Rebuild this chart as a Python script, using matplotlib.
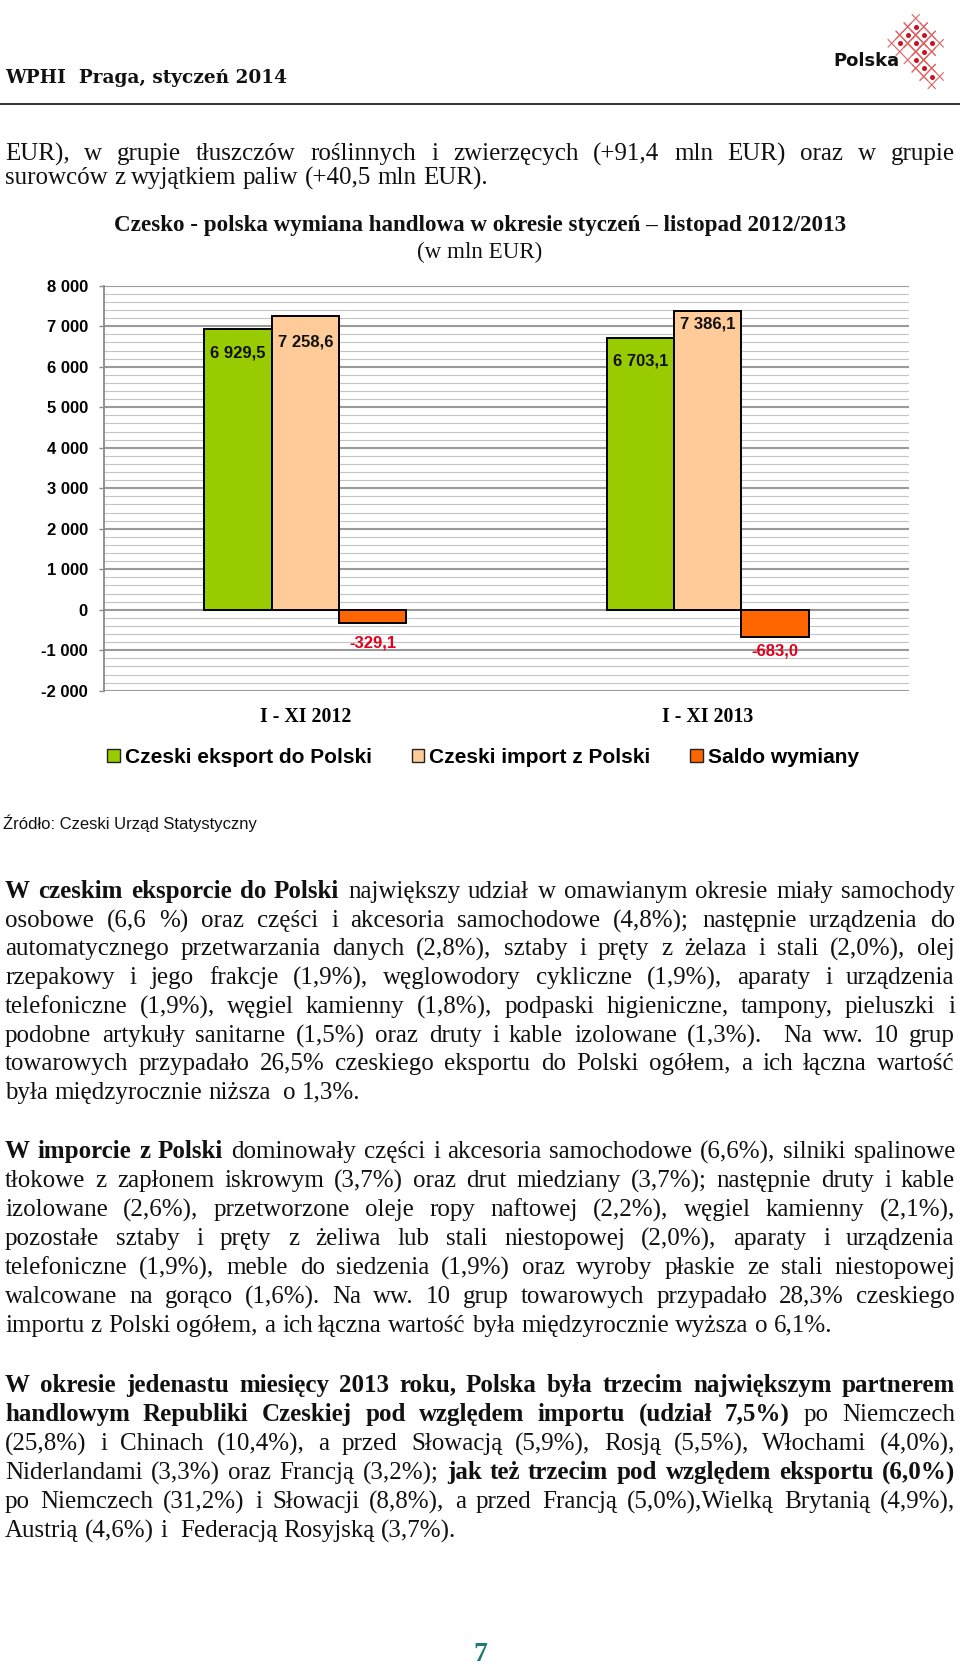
import math
import matplotlib
matplotlib.use("Agg")
import matplotlib.pyplot as plt
from matplotlib.patches import Patch
from matplotlib.ticker import MultipleLocator, FixedLocator, FuncFormatter
from matplotlib.font_manager import FontProperties
import numpy as np

# ---------------- data ----------------
categories = ["I - XI 2012", "I - XI 2013"]
series_names = ["Czeski eksport do Polski", "Czeski import z Polski", "Saldo wymiany"]
export_cz = [6929.5, 6703.1]
import_cz = [7258.6, 7386.1]
saldo = [-329.1, -683.0]
y_ticks = [-2000, -1000, 0, 1000, 2000, 3000, 4000, 5000, 6000, 7000, 8000]

chart_title = "Czesko - polska wymiana handlowa w okresie styczeń – listopad 2012/2013"
chart_subtitle = "(w mln EUR)"
source_text = "Źródło: Czeski Urząd Statystyczny"
header_text = "WPHI  Praga, styczeń 2014"
page_number = "7"

para_top = [
    "EUR), w grupie tłuszczów roślinnych i zwierzęcych (+91,4 mln EUR) oraz w grupie",
    "surowców z wyjątkiem paliw (+40,5 mln EUR).",
]
para_export = [
    "**W czeskim eksporcie do Polski** największy udział w omawianym okresie miały samochody",
    "osobowe (6,6 %) oraz części i akcesoria samochodowe (4,8%); następnie urządzenia do",
    "automatycznego przetwarzania danych (2,8%), sztaby i pręty z żelaza i stali (2,0%), olej",
    "rzepakowy i jego frakcje (1,9%), węglowodory cykliczne (1,9%), aparaty i urządzenia",
    "telefoniczne (1,9%), węgiel kamienny (1,8%), podpaski higieniczne, tampony, pieluszki i",
    "podobne artykuły sanitarne (1,5%) oraz druty i kable izolowane (1,3%).  Na ww. 10 grup",
    "towarowych przypadało 26,5% czeskiego eksportu do Polski ogółem, a ich łączna wartość",
    "była międzyrocznie niższa  o 1,3%.",
]
para_import = [
    "**W imporcie z Polski** dominowały części i akcesoria samochodowe (6,6%), silniki spalinowe",
    "tłokowe z zapłonem iskrowym (3,7%) oraz drut miedziany (3,7%); następnie druty i kable",
    "izolowane (2,6%), przetworzone oleje ropy naftowej (2,2%), węgiel kamienny (2,1%),",
    "pozostałe sztaby i pręty z żeliwa lub stali niestopowej (2,0%), aparaty i urządzenia",
    "telefoniczne (1,9%), meble do siedzenia (1,9%) oraz wyroby płaskie ze stali niestopowej",
    "walcowane na gorąco (1,6%). Na ww. 10 grup towarowych przypadało 28,3% czeskiego",
    "importu z Polski ogółem, a ich łączna wartość była międzyrocznie wyższa o 6,1%.",
]
para_partner = [
    "**W okresie jedenastu miesięcy 2013 roku, Polska była trzecim największym partnerem**",
    "**handlowym Republiki Czeskiej pod względem importu (udział 7,5%)** po Niemczech",
    "(25,8%) i Chinach (10,4%), a przed Słowacją (5,9%), Rosją (5,5%), Włochami (4,0%),",
    "Niderlandami (3,3%) oraz Francją (3,2%); **jak też trzecim pod względem eksportu (6,0%)**",
    "po Niemczech (31,2%) i Słowacji (8,8%), a przed Francją (5,0%),Wielką Brytanią (4,9%),",
    "Austrią (4,6%) i  Federacją Rosyjską (3,7%).",
]

# ---------------- style / layout ----------------
W, H, DPI = 960, 1666, 100
colors = ["#99CC00", "#FFCC99", "#FF6600"]
label_colors = ["#111111", "#111111", "#E3001B"]
label_offsets_px = [[-24, -23], [-26, -13], [-20, -14]]  # per series, per category
SERIF = "Liberation Serif"
SANS = "Liberation Sans"
BODY_FS = 18
LEFT, RIGHT = 5, 955

fig = plt.figure(figsize=(W / DPI, H / DPI), dpi=DPI)
fig.patch.set_facecolor("white")

# decoration / text layer in pixel coordinates (y downwards)
deco = fig.add_axes([0, 0, 1, 1])
deco.set_xlim(0, W)
deco.set_ylim(H, 0)
deco.axis("off")

renderer = fig.canvas.get_renderer()

# header
deco.text(5, 83, header_text, family="DejaVu Serif", weight="bold", fontsize=13.3,
          va="baseline", ha="left", color="#111111")
deco.plot([0, W], [103.5, 103.5], color="#333333", lw=1.4, solid_capstyle="butt")

# logo
deco.text(833, 66, "Polska", family="DejaVu Sans", weight="bold", fontsize=13,
          va="baseline", ha="left", color="#111111")
logo_cells = [(0, 0), (1, 0), (0, 1), (2, 0), (1, 1), (0, 2), (1, 2), (2, 2), (2, 3), (2, 4)]
ox, oy, sx, sy = 915.7, 26.7, 8.0, 8.3
for a, b in logo_cells:
    cx = ox + (b - a) * sx
    cy = oy + (a + b) * sy
    verts = [(cx, cy - sy), (cx + sx, cy), (cx, cy + sy), (cx - sx, cy), (cx, cy - sy)]
    for (x1, y1), (x2, y2) in zip(verts[:-1], verts[1:]):
        dx, dy = (x2 - x1) * 0.45, (y2 - y1) * 0.45
        deco.plot([x1 - dx, x2 + dx], [y1 - dy, y2 + dy], color="#E06060", lw=0.8)
    deco.plot(cx, cy, "o", ms=3.6, color="#CC1020", mec="none")


def baseline_shift(word, bold):
    """Integer pixel shift the Agg text rasteriser adds for this word (keeps baselines even)."""
    if not word:
        return 0
    try:
        from matplotlib.backends.backend_agg import get_hinting_flag
        fp = FontProperties(family=SERIF, weight="bold" if bold else "normal", size=BODY_FS)
        font = renderer._prepare_font(fp)
        font.set_text(word, 0, flags=get_hinting_flag())
        _, h = font.get_width_height()
        d = font.get_descent()
        return round(d / 64.0) - (h // 64) + math.floor((h - d) / 64.0)
    except Exception:
        return 0


def draw_paragraph(lines, y0, spacing, last_left=True):
    sp_a = deco.text(0, 0, "a a", fontsize=BODY_FS, family=SERIF)
    sp_b = deco.text(0, 0, "aa", fontsize=BODY_FS, family=SERIF)
    space_w = sp_a.get_window_extent(renderer).width - sp_b.get_window_extent(renderer).width
    sp_a.remove()
    sp_b.remove()
    for li, line in enumerate(lines):
        y = round(y0 + li * spacing)
        parts = line.split("**")
        toks = []
        for pi, part in enumerate(parts):
            part = part.strip()
            if not part:
                continue
            for w in part.split(" "):
                toks.append((w, pi % 2 == 1))
        texts, widths = [], []
        for w, bold in toks:
            t = deco.text(0, y - baseline_shift(w, bold), w, fontsize=BODY_FS, family=SERIF,
                          weight="bold" if bold else "normal", va="baseline", ha="left",
                          color="#111111")
            texts.append(t)
            widths.append(t.get_window_extent(renderer).width if w else 0.0)
        justify = not (last_left and li == len(lines) - 1)
        if justify and len(toks) > 1:
            gap = (RIGHT - LEFT - sum(widths)) / (len(toks) - 1)
        else:
            gap = space_w
        x = LEFT
        for t, wd in zip(texts, widths):
            t.set_x(round(x))
            x += wd + gap


draw_paragraph(para_top, 160, 23.6)
draw_paragraph(para_export, 898, 28.7)
draw_paragraph(para_import, 1158, 29.0)
draw_paragraph(para_partner, 1392, 29.0)

# chart titles
deco.text(480, 231, chart_title, family=SERIF, weight="bold", fontsize=16.6,
          ha="center", va="baseline", color="#111111")
deco.text(480, 258, chart_subtitle, family=SERIF, fontsize=16.6,
          ha="center", va="baseline", color="#111111")

# source and page number
deco.text(3, 829, source_text, family=SANS, fontsize=12, ha="left", va="baseline",
          color="#111111")
deco.text(480, 1661, page_number, family=SERIF, weight="bold", fontsize=20,
          ha="center", va="baseline", color="#1E7B7B")

# ---------------- chart ----------------
ax_left, ax_right, ax_top, ax_bot = 104, 909, 285.7, 690.7
ax = fig.add_axes([ax_left / W, 1 - ax_bot / H, (ax_right - ax_left) / W, (ax_bot - ax_top) / H])
ax.patch.set_alpha(0)

x = np.arange(len(categories))
bw = 0.1673
all_series = [export_cz, import_cz, saldo]
for si, vals in enumerate(all_series):
    pos = x + (si - 1) * bw
    bars = ax.bar(pos, vals, width=bw, color=colors[si], edgecolor="black",
                  linewidth=1.4, zorder=3)
    for ci, (bar, v) in enumerate(zip(bars, vals)):
        lab = f"{v:,.1f}".replace(",", " ").replace(".", ",")
        ax.annotate(lab, (bar.get_x() + bar.get_width() / 2, v),
                    xytext=(0, label_offsets_px[si][ci]), textcoords="offset pixels",
                    ha="center", va="center", fontsize=12, weight="bold", family=SANS,
                    color=label_colors[si], zorder=5)

ax.set_xlim(-0.5, 1.5)
ax.set_ylim(-2000, 8000)
ax.yaxis.set_major_locator(FixedLocator(y_ticks))
ax.yaxis.set_minor_locator(MultipleLocator(200))
ax.yaxis.set_major_formatter(FuncFormatter(lambda v, p: f"{int(v):,}".replace(",", " ")))
ax.set_axisbelow(True)
ax.grid(which="minor", axis="y", color="#C4C4C4", lw=0.8, zorder=0)
ax.grid(which="major", axis="y", color="#9A9A9A", lw=1.5, zorder=1)
for s in ["top", "right", "bottom"]:
    ax.spines[s].set_visible(False)
ax.spines["left"].set_color("#8A8A8A")
ax.spines["left"].set_linewidth(1.3)
ax.tick_params(axis="y", which="major", length=3.6, width=1.0, color="#8A8A8A", pad=8,
               labelsize=12)
ax.tick_params(axis="y", which="minor", length=0)
for t in ax.get_yticklabels():
    t.set_fontweight("bold")
    t.set_family(SANS)
ax.set_xticks(x)
ax.set_xticklabels(categories, family=SERIF, weight="bold", fontsize=14.3)
ax.tick_params(axis="x", length=0, pad=12)

handles = [Patch(facecolor=c, edgecolor="#222222", linewidth=1.0) for c in colors]
fig.legend(handles, series_names, loc="center", bbox_to_anchor=(483 / W, 1 - 757 / H),
           ncol=3, frameon=False, prop=dict(family=SANS, weight="bold", size=15),
           handlelength=0.6, handleheight=0.6, handletextpad=0.25, columnspacing=1.9,
           borderaxespad=0, borderpad=0)

fig.savefig("out.png", dpi=DPI, facecolor="white")
